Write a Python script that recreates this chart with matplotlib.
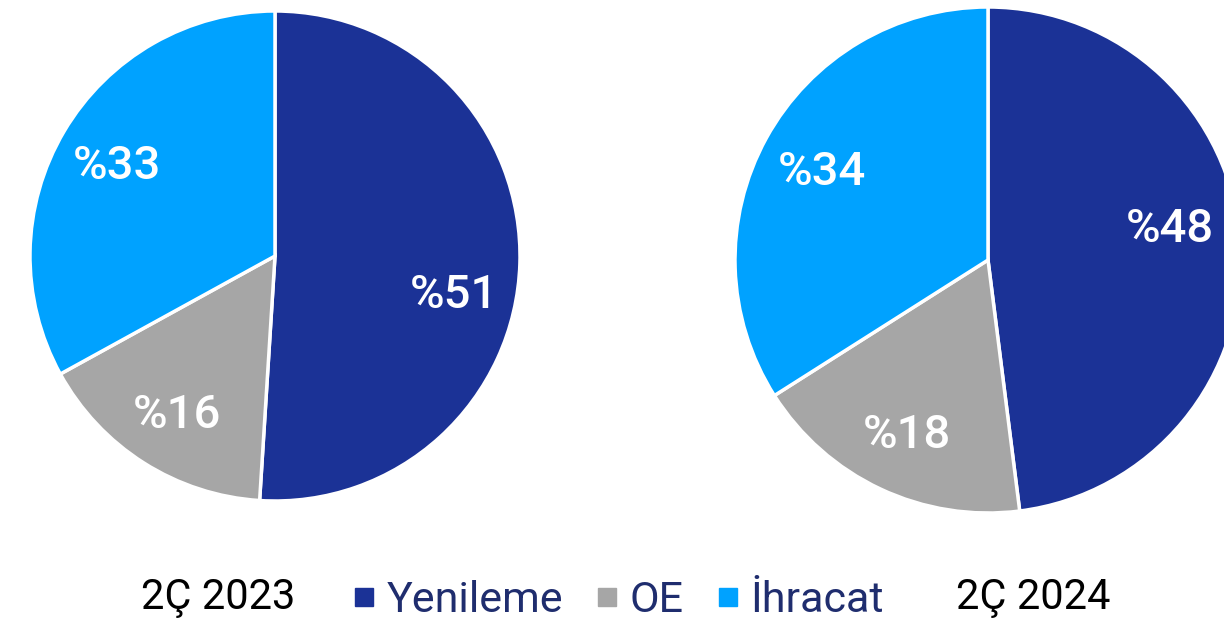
import matplotlib
matplotlib.use('Agg')
import matplotlib.pyplot as plt
from matplotlib.lines import Line2D

plt.rcParams['font.family'] = ['Roboto', 'DejaVu Sans']

segments = ['Yenileme', 'OE', 'İhracat']
colors = ['#1B3296', '#A6A6A6', '#00A2FF']
periods = ['2Ç 2023', '2Ç 2024']
shares_2023 = [51, 16, 33]
shares_2024 = [48, 18, 34]

W, H = 1224, 629
fig = plt.figure(figsize=(W / 100, H / 100), dpi=100)


def pie_axes(cx, cy, r):
    # axes spanning 1.25 radii each side so the wedges are not clipped
    s = 1.25 * r
    ax = fig.add_axes([(cx - s) / W, (H - cy - s) / H, 2 * s / W, 2 * s / H])
    return ax


def draw_pie(ax, values):
    wedges, texts, autotexts = ax.pie(
        values, colors=colors, startangle=90, counterclock=False,
        autopct=lambda p: f'%{p:.0f}', pctdistance=0.75,
        wedgeprops=dict(edgecolor='white', linewidth=2.5),
        textprops=dict(color='white', fontsize=34, fontweight='medium'))
    ax.set_xlim(-1.25, 1.25)
    ax.set_ylim(-1.25, 1.25)
    for t in autotexts:
        x, y = t.get_position()
        t.set_position((x, y - 0.015))
    return autotexts


ax1 = pie_axes(275, 256, 245)
labels1 = draw_pie(ax1, shares_2023)
x, y = labels1[0].get_position()
labels1[0].set_position((x - 0.02, y - 0.12))

ax2 = pie_axes(988, 260, 253)
labels2 = draw_pie(ax2, shares_2024)
# nudge the first label inward and up to keep it inside the frame
x, y = labels2[0].get_position()
labels2[0].set_position((x - 0.03, y + 0.09))

fig.text(218 / W, 1 - 598 / H, periods[0], ha='center', va='center',
         fontsize=30, color='black')
fig.text(1033 / W, 1 - 598 / H, periods[1], ha='center', va='center',
         fontsize=30, color='black')

handles = [Line2D([], [], marker='s', linestyle='', markersize=13,
                  markerfacecolor=c, markeredgecolor=c) for c in colors]
leg = fig.legend(handles, segments, loc='center', bbox_to_anchor=(619 / W, 1 - 601 / H),
                 ncol=3, frameon=False, handlelength=0.45,
                 prop=dict(size=31),
                 handletextpad=0.3, columnspacing=0.8, borderpad=0)
for t in leg.get_texts():
    t.set_color('#1F2D6E')

fig.savefig('out.png', dpi=100)
